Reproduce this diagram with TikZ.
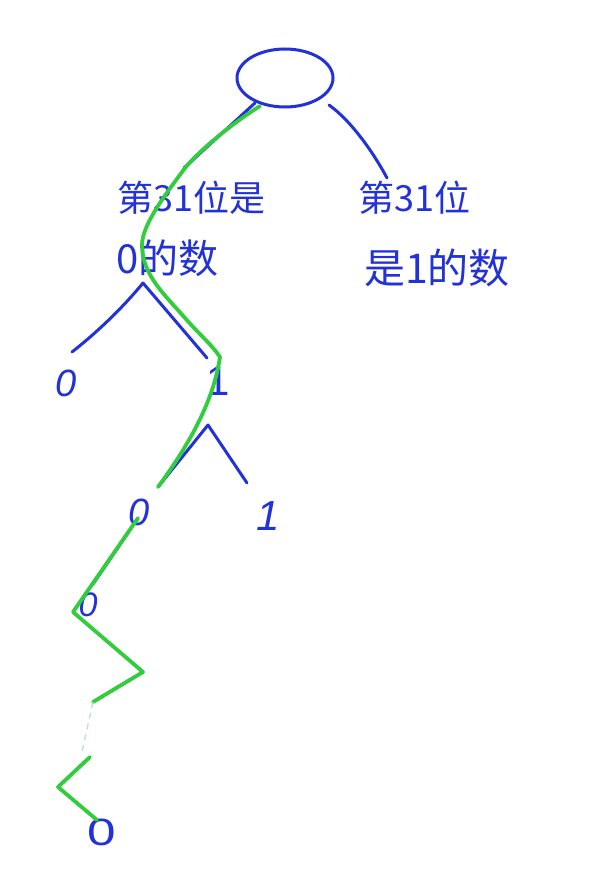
\documentclass[tikz,border=0pt]{standalone}
\usepackage{fontspec}
\setmainfont{Liberation Sans}
\newfontfamily\cjk{Noto Sans CJK SC}
\usetikzlibrary{shapes.geometric}
\definecolor{pen}{RGB}{35,50,215}
\definecolor{hl}{RGB}{50,205,60}
\tikzset{
  ink/.style={draw=pen, line width=3pt, line cap=round, line join=round},
  mark path/.style={draw=hl, line width=3.8pt, line cap=round, line join=round},
  faint/.style={draw=hl!40, line width=1.2pt, dash pattern=on 6pt off 5pt},
  cjklabel/.style={text=pen, font=\cjk\fontsize{36}{40}\selectfont, inner sep=0pt, anchor=west},
  digit/.style={text=pen, font=\itshape\fontsize{38}{40}\selectfont, inner sep=0pt},
}
\begin{document}
\begin{tikzpicture}[x=1pt,y=-1pt]
\useasboundingbox (0,0) rectangle (613,890);
\fill[white] (0,0) rectangle (613,890);

% root
\node[ink, ellipse, minimum width=96pt, minimum height=58pt, inner sep=0pt] (root) at (285,78) {};
\coordinate (rl) at (255,103);
\coordinate (rle) at (184,168);
\coordinate (rr) at (329,105);
\coordinate (rre) at (387,178);
\draw[ink] (rl) -- (rle);
\draw[ink] (rr) .. controls (350,120) and (372,150) .. (rre);

% labels
\node[cjklabel] (lt1) at (117,198) {第31位是};
\node[cjklabel, font=\cjk\fontsize{40}{44}\selectfont] (lt2) at (116,258) {0的数};
\node[cjklabel] (rt1) at (358,198) {第31位};
\node[cjklabel, font=\cjk\fontsize{41}{44}\selectfont] (rt2) at (364,268) {是1的数};

% first split
\coordinate (p1) at (143,283);
\coordinate (p1l) at (72,352);
\coordinate (p1r) at (207,358);
\draw[ink] (p1l) .. controls (100,330) and (125,305) .. (p1) -- (p1r);
\node[digit] (z1) at (66,383) {0};
\node[digit, font=\fontsize{42}{44}\selectfont] (o1) at (218,381) {1};

% second split
\coordinate (p2) at (208,425);
\coordinate (p2l) at (158,487);
\coordinate (p2r) at (247,483);
\draw[ink] (p2l) -- (p2) -- (p2r);
\node[digit] (z2) at (139,512) {0};
\node[digit, font=\itshape\fontsize{42}{44}\selectfont] (o2) at (268,516) {1};

% chain
\node[digit, font=\itshape\fontsize{34}{36}\selectfont] (z3) at (88,605) {0};
\coordinate (c1) at (132,527);
\coordinate (c2) at (93,584);
\draw[ink] (c1) -- (c2);
\node[digit, font=\fontsize{38}{40}\selectfont, xscale=1.35] (z4) at (102,832) {0};

% green highlighted path
\draw[mark path] (260,106) .. controls (230,125) and (200,150) .. (185,168)
  .. controls (165,195) and (142,225) .. (142,245)
  .. controls (142,275) and (165,295) .. (185,318)
  .. controls (200,335) and (212,345) .. (220,357)
  .. controls (215,390) and (200,430) .. (158,487);
\coordinate (g1) at (138,518);
\coordinate (g2) at (73,612);
\coordinate (g3) at (143,672);
\coordinate (g4) at (93,702);
\coordinate (g5) at (82,752);
\coordinate (g6) at (90,757);
\coordinate (g7) at (58,787);
\coordinate (g8) at (97,820);
\draw[mark path] (g1) -- (g2) -- (g3) -- (g4);
\draw[faint] (g4) -- (g5);
\draw[mark path] (g6) -- (g7) -- (g8);
\end{tikzpicture}
\end{document}
